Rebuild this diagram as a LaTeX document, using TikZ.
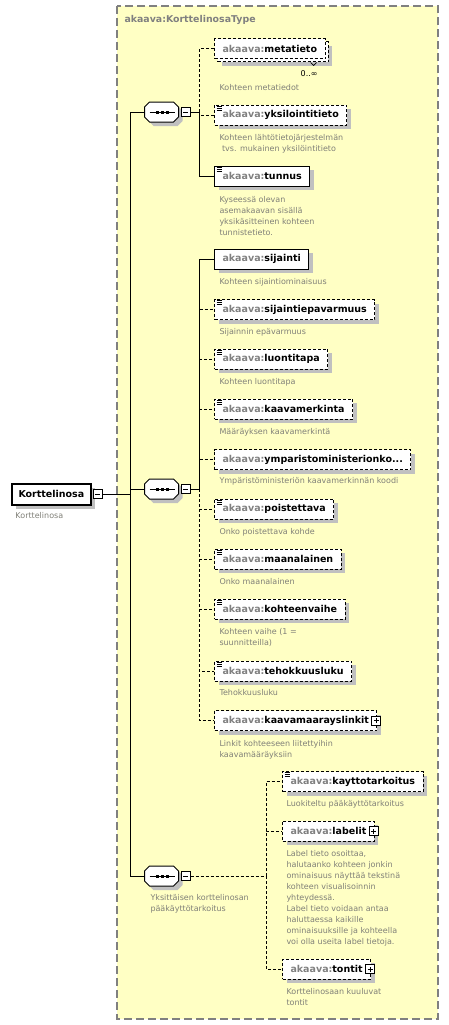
\documentclass[tikz,border=0pt]{standalone}
\usepackage{fontspec}
\setmainfont{DejaVu Sans}
\usetikzlibrary{shadows}

\definecolor{typeyellow}{RGB}{255,255,196}
\definecolor{shadowgray}{RGB}{192,192,192}
\definecolor{nsgray}{RGB}{128,128,128}
\definecolor{descgray}{RGB}{128,128,120}
\newcommand{\akns}{\textcolor{nsgray}{akaava:}}
% octagon of a sequence compositor, drawn over an empty node
\newcommand{\seqoctagon}[1]{%
	\fill[shadowgray] ([shift={(4,4)}]#1.west) ++(0,-5) -- ++(5,-5) -- ++(24,0) -- ++(5,5) -- ++(0,10) -- ++(-5,5) -- ++(-24,0) -- ++(-5,-5) -- cycle;
	\draw[fill=white] (#1.west) ++(0,-5) -- ++(5,-5) -- ++(24,0) -- ++(5,5) -- ++(0,10) -- ++(-5,5) -- ++(-24,0) -- ++(-5,-5) -- cycle;
	\draw ([xshift=5pt]#1.west) -- ([xshift=-5pt]#1.east);
	\fill ([xshift=-6.5pt,yshift=-1.5pt]#1.center) rectangle +(3pt,3pt);
	\fill ([xshift=-1.5pt,yshift=-1.5pt]#1.center) rectangle +(3pt,3pt);
	\fill ([xshift=3.5pt,yshift=-1.5pt]#1.center) rectangle +(3pt,3pt);}

\begin{document}
\begin{tikzpicture}[x=1pt,y=-1pt,line width=1pt,
elem/.style={draw,fill=white,anchor=west,minimum height=20pt,inner xsep=8pt,inner ysep=0pt,
	font=\fontsize{9.5}{11}\selectfont\bfseries,
	drop shadow={shadow xshift=4pt,shadow yshift=-4pt,fill=shadowgray,opacity=1}},
opt/.style={elem,dash pattern=on 3pt off 2pt},
simple/.style={path picture={
	\draw[solid,line width=0.7pt] ([xshift=2pt,yshift=-1pt]path picture bounding box.north west) -- +(5pt,0pt);
	\draw[solid,line width=0.7pt] ([xshift=2pt,yshift=-3pt]path picture bounding box.north west) -- +(5pt,0pt);
	\draw[solid,line width=0.7pt] ([xshift=2pt,yshift=-5pt]path picture bounding box.north west) -- +(5pt,0pt);}},
seqbox/.style={rectangle,minimum width=34pt,minimum height=20pt,inner sep=0pt},
minusbox/.style={draw,solid,fill=white,minimum size=9pt,inner sep=0pt,anchor=west,
	path picture={\draw ([xshift=2pt]path picture bounding box.west) -- ([xshift=-2pt]path picture bounding box.east);}},
plusbox/.style={minusbox,anchor=center,
	path picture={\draw ([xshift=2pt]path picture bounding box.west) -- ([xshift=-2pt]path picture bounding box.east);
	\draw ([yshift=2pt]path picture bounding box.south) -- ([yshift=-2pt]path picture bounding box.north);}},
desc/.style={anchor=north west,inner sep=0pt,align=left,text=descgray,font=\fontsize{8}{11}\selectfont},
opt line/.style={dash pattern=on 3pt off 2pt}]

\useasboundingbox (0,0) rectangle (449,1025);

% the complex type
\draw[nsgray,fill=typeyellow,line width=1.3pt,dash pattern=on 8pt off 4pt] (117,6) rectangle (438,1019);
\node[anchor=base west,inner sep=0pt,text=nsgray,font=\fontsize{9.4}{11}\selectfont\bfseries] (typename) at (124,22.5) {akaava:KorttelinosaType};

% root element
\node[elem,line width=2pt,inner xsep=6.5pt,minimum height=21pt] (korttelinosa) at (11,494) {Korttelinosa};
\node[minusbox] (korttelinosaminus) at ([xshift=1pt]korttelinosa.east) {};
\node[desc] (korttelinosadesc) at (15,511.5) {Korttelinosa};

% compositors
\node[seqbox] (seqa) at (162,112) {};
\seqoctagon{seqa}
\node[minusbox] (seqaminus) at ([xshift=1pt]seqa.east) {};
\node[seqbox] (seqb) at (162,489) {};
\seqoctagon{seqb}
\node[minusbox] (seqbminus) at ([xshift=1pt]seqb.east) {};
\node[seqbox] (seqc) at (162,876) {};
\seqoctagon{seqc}
\node[minusbox] (seqcminus) at ([xshift=1pt]seqc.east) {};
\node[desc] (seqcdesc) at (150,893.5) {Yksittäisen korttelinosan\\pääkäyttötarkoitus};

\coordinate (rootjoin) at (130,494);
\coordinate (seqajoin) at (199,112);
\coordinate (seqbjoin) at (199,489);
\coordinate (seqcjoin) at (266,876);

% first sequence
\node[opt] (metatietoback) at (217,52) {\phantom{\akns metatieto}};
\node[draw,fill=white,anchor=west,minimum height=20pt,inner xsep=8pt,inner ysep=0pt,dash pattern=on 3pt off 2pt,
	font=\fontsize{9.5}{11}\selectfont\bfseries] (metatieto) at (214,49) {\akns metatieto};
\draw[line width=0.7pt] ([xshift=-18pt]metatietoback.south east) -- ++(3,3) -- ++(3,-3);
\node[anchor=base east,inner sep=0pt,font=\fontsize{8}{10}\selectfont] (metatietoocc) at (318,76.5) {0..∞};
\node[desc] (metatietodesc) at (219,83.7) {Kohteen metatiedot};

\node[opt,simple] (yksilointitieto) at (214,115) {\akns yksilointitieto};
\node[desc] (yksilointitietodesc) at (219,133.7) {Kohteen lähtötietojärjestelmän\\\ tvs. mukainen yksilöintitieto};

\node[elem,simple] (tunnus) at (214,176) {\akns tunnus};
\node[desc] (tunnusdesc) at (219,195.7) {Kyseessä olevan\\asemakaavan sisällä\\yksikäsitteinen kohteen\\tunnistetieto.};

% second sequence
\node[elem] (sijainti) at (214,259) {\akns sijainti};
\node[desc] (sijaintidesc) at (219,277.7) {Kohteen sijaintiominaisuus};

\node[opt,simple] (sijaintiepavarmuus) at (214,309.5) {\akns sijaintiepavarmuus};
\node[desc] (sijaintiepavarmuusdesc) at (219,327.7) {Sijainnin epävarmuus};

\node[opt,simple] (luontitapa) at (214,359) {\akns luontitapa};
\node[desc] (luontitapadesc) at (219,377.7) {Kohteen luontitapa};

\node[opt,simple] (kaavamerkinta) at (214,409) {\akns kaavamerkinta};
\node[desc] (kaavamerkintadesc) at (219,427.7) {Määräyksen kaavamerkintä};

\node[opt] (ymparisto) at (214,459.5) {\akns ymparistoministerionko...};
\node[desc] (ymparistodesc) at (219,476.7) {Ympäristöministeriön kaavamerkinnän koodi};

\node[opt,simple] (poistettava) at (214,509) {\akns poistettava};
\node[desc] (poistettavadesc) at (219,527.7) {Onko poistettava kohde};

\node[opt,simple] (maanalainen) at (214,559) {\akns maanalainen};
\node[desc] (maanalainendesc) at (219,577.7) {Onko maanalainen};

\node[opt,simple] (kohteenvaihe) at (214,609) {\akns kohteenvaihe};
\node[desc] (kohteenvaihedesc) at (219,627.7) {Kohteen vaihe (1 =\\suunnitteilla)};

\node[opt,simple] (tehokkuusluku) at (214,671) {\akns tehokkuusluku};
\node[desc] (tehokkuuslukudesc) at (219,688.7) {Tehokkuusluku};

\node[opt] (kaavamaarayslinkit) at (214,720.5) {\akns kaavamaarayslinkit\hspace{11pt}};
\node[plusbox] (kaavamaarayslinkitplus) at ([xshift=-1pt]kaavamaarayslinkit.east) {};
\node[desc] (kaavamaarayslinkitdesc) at (219,739.7) {Linkit kohteeseen liitettyihin\\kaavamääräyksiin};

% third sequence
\node[opt,simple] (kayttotarkoitus) at (282,781.5) {\akns kayttotarkoitus};
\node[desc] (kayttotarkoitusdesc) at (286,799.7) {Luokiteltu pääkäyttötarkoitus};

\node[opt] (labelit) at (282,831) {\akns labelit\hspace{11pt}};
\node[plusbox] (labelitplus) at ([xshift=-1pt]labelit.east) {};
\node[desc] (labelitdesc) at (286,849.7) {Label tieto osoittaa,\\halutaanko kohteen jonkin\\ominaisuus näyttää tekstinä\\kohteen visualisoinnin\\yhteydessä.\\Label tieto voidaan antaa\\haluttaessa kaikille\\ominaisuuksille ja kohteella\\voi olla useita label tietoja.};

\node[opt] (tontit) at (282,969) {\akns tontit\hspace{11pt}};
\node[plusbox] (tontitplus) at ([xshift=-1pt]tontit.east) {};
\node[desc] (tontitdesc) at (286,987.7) {Korttelinosaan kuuluvat\\tontit};

% connectors
\draw (korttelinosaminus.east) -- (rootjoin);
\draw (rootjoin) |- (seqa.west);
\draw (rootjoin) |- (seqb.west);
\draw (rootjoin) |- (seqc.west);

\draw (seqaminus.east) -- (seqajoin);
\draw[opt line] (seqajoin) |- (metatieto.west);
\draw[opt line] (seqajoin) |- (yksilointitieto.west);
\draw (seqajoin) |- (tunnus.west);

\draw (seqbminus.east) -- (seqbjoin);
\draw (seqbjoin) |- (sijainti.west);
\draw[opt line] (seqbjoin) |- (sijaintiepavarmuus.west);
\draw[opt line] (seqbjoin) |- (luontitapa.west);
\draw[opt line] (seqbjoin) |- (kaavamerkinta.west);
\draw[opt line] (seqbjoin) |- (ymparisto.west);
\draw[opt line] (seqbjoin) |- (poistettava.west);
\draw[opt line] (seqbjoin) |- (maanalainen.west);
\draw[opt line] (seqbjoin) |- (kohteenvaihe.west);
\draw[opt line] (seqbjoin) |- (tehokkuusluku.west);
\draw[opt line] (seqbjoin) |- (kaavamaarayslinkit.west);

\draw[opt line] (seqcminus.east) -- (seqcjoin);
\draw[opt line] (seqcjoin) |- (kayttotarkoitus.west);
\draw[opt line] (seqcjoin) |- (labelit.west);
\draw[opt line] (seqcjoin) |- (tontit.west);
\end{tikzpicture}
\end{document}
